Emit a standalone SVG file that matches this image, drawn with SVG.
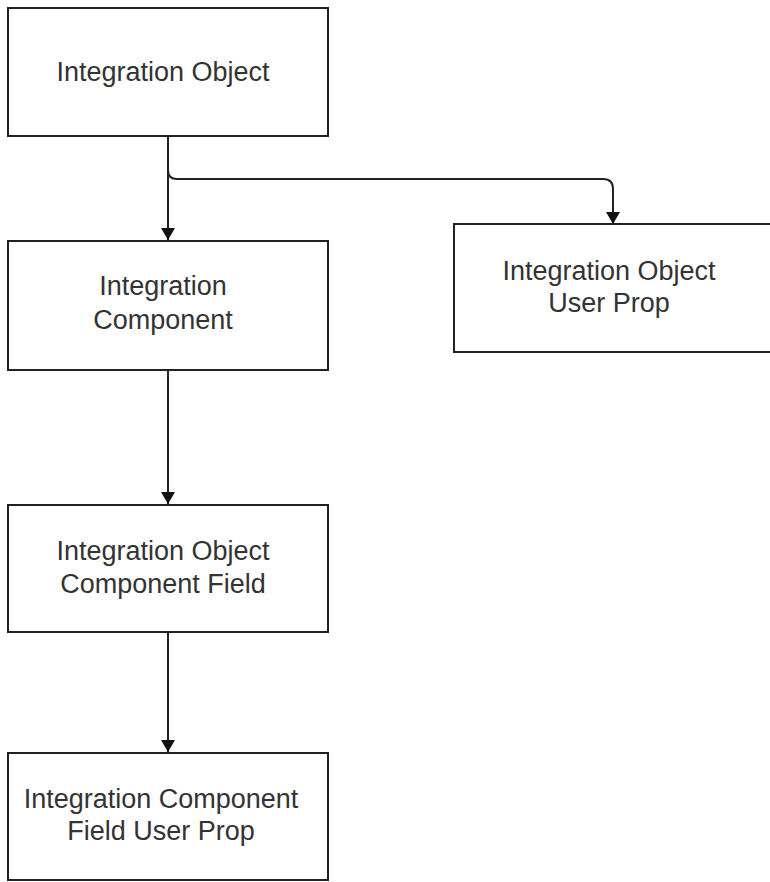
<svg xmlns="http://www.w3.org/2000/svg" width="770" height="882" viewBox="0 0 770 882">
<style>
.box{fill:#fff;stroke:#222;stroke-width:2}
.lbl{font-family:"Liberation Sans",Arial,sans-serif;font-size:27px;fill:#333;text-anchor:middle}
.conn{fill:none;stroke:#222;stroke-width:2}
</style>
<defs>
<marker id="ah" markerWidth="14" markerHeight="14" refX="12" refY="7" orient="auto" markerUnits="userSpaceOnUse">
<path d="M0,0 L12,7 L0,14 z" fill="#111"/>
</marker>
</defs>
<rect width="770" height="882" fill="#fff"/>
<g id="connectors">
<path class="conn" d="M168,136 V240" marker-end="url(#ah)"/>
<path class="conn" d="M168,170 Q168,179 177,179 H603 Q613,179 613,189 V224" marker-end="url(#ah)"/>
<path class="conn" d="M168,370 V504" marker-end="url(#ah)"/>
<path class="conn" d="M168,632 V752" marker-end="url(#ah)"/>
</g>
<g id="n1"><rect class="box" x="8" y="8" width="320" height="128"/><text class="lbl" x="163" y="81">Integration Object</text></g>
<g id="n2"><rect class="box" x="8" y="241" width="320" height="129"/><text class="lbl" x="163" y="295">Integration</text><text class="lbl" x="163" y="329">Component</text></g>
<g id="n3"><rect class="box" x="8" y="505" width="320" height="127"/><text class="lbl" x="163" y="560">Integration Object</text><text class="lbl" x="163" y="593">Component Field</text></g>
<g id="n4"><rect class="box" x="8" y="753" width="320" height="127"/><text class="lbl" x="161" y="808">Integration Component</text><text class="lbl" x="161" y="840">Field User Prop</text></g>
<g id="n5"><rect class="box" x="454" y="224" width="320" height="128"/><text class="lbl" x="609" y="280">Integration Object</text><text class="lbl" x="609" y="312">User Prop</text></g>
</svg>
